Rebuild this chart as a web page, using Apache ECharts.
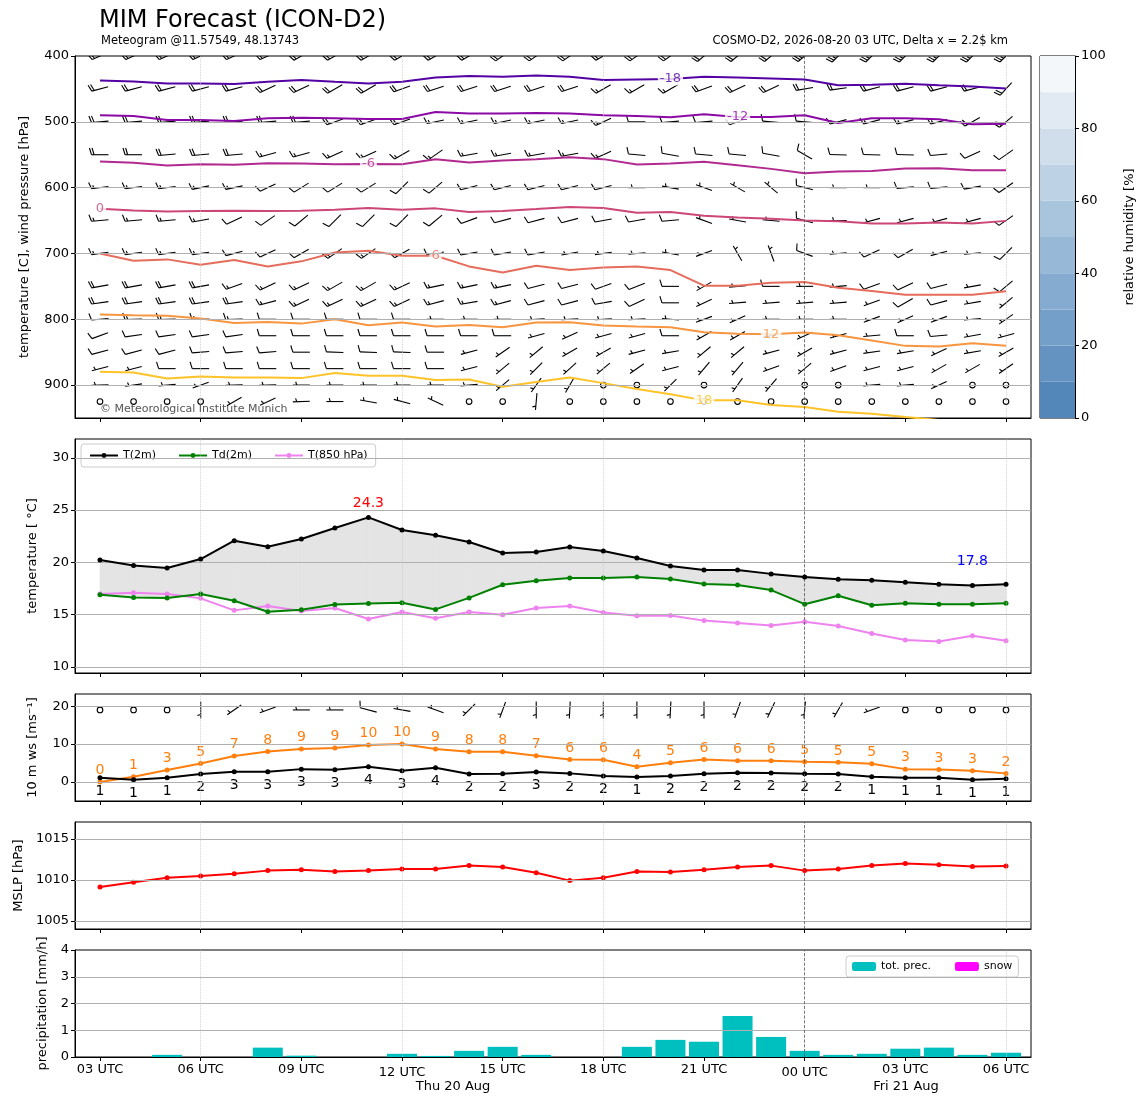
<!DOCTYPE html>
<html><head><meta charset="utf-8">
<script src="https://cdn.jsdelivr.net/npm/echarts@6/dist/echarts.min.js"></script>
<style>html,body{margin:0;padding:0;background:#fff}#c{width:1148px;height:1105px}</style>
</head><body><div id="c"></div>
<script>
// ---------- time axis ----------
const hours = ["03","04","05","06","07","08","09","10","11","12","13","14","15","16","17","18","19","20","21","22","23","00","01","02","03","04","05","06"];
const tickIdx = [0,3,6,9,12,15,18,21,24,27];
const tickLabels = ["03 UTC","06 UTC","09 UTC","12 UTC","15 UTC","18 UTC","21 UTC","00 UTC","03 UTC","06 UTC"];
const lowTickIdx = [9,21];
const gridIdx6h = [3,9,15,27];
const midnightIdx = 21;

// ---------- surface panels ----------
const t2m  = [20.22,19.71,19.46,20.32,22.07,21.5,22.23,23.29,24.3,23.1,22.6,21.95,20.9,21.0,21.47,21.08,20.41,19.65,19.27,19.27,18.9,18.6,18.39,18.29,18.1,17.9,17.8,17.9];
const td2m = [16.9,16.65,16.6,16.97,16.33,15.28,15.47,15.98,16.07,16.14,15.5,16.6,17.86,18.25,18.5,18.5,18.6,18.4,17.93,17.83,17.35,16.0,16.8,15.9,16.1,16.0,16.0,16.1];
const t850 = [16.97,17.1,16.97,16.56,15.41,15.83,15.35,15.63,14.58,15.25,14.65,15.25,15.0,15.63,15.83,15.2,14.9,14.93,14.43,14.2,13.96,14.33,13.92,13.2,12.57,12.44,12.98,12.5];
const ws10   = [1.14,0.61,1.14,2.1,2.7,2.7,3.4,3.25,4.0,2.98,3.77,2.1,2.2,2.63,2.28,1.58,1.3,1.58,2.2,2.45,2.37,2.2,2.1,1.4,1.14,1.14,0.61,0.88];
const gust10 = [0,1.4,3.16,4.9,6.84,8.07,8.7,8.95,9.74,10.0,8.7,7.98,7.98,6.93,5.96,5.88,4.0,5.1,5.96,5.6,5.6,5.35,5.18,4.82,3.4,3.3,3.0,2.28];
const dir10  = [0,0,0,180,235,250,270,270,285,280,290,225,200,180,183,180,180,183,180,200,205,185,210,250,0,0,0,0];
const barbRow10 = 19;
const mslp = [1009.15,1009.72,1010.28,1010.49,1010.77,1011.14,1011.26,1011.02,1011.14,1011.34,1011.34,1011.75,1011.59,1010.89,1009.92,1010.28,1011.02,1010.98,1011.26,1011.59,1011.75,1011.14,1011.34,1011.75,1012.0,1011.87,1011.63,1011.71];
const precip = [0,0,0.08,0,0,0.35,0.05,0,0,0.12,0.04,0.23,0.38,0.08,0,0,0.38,0.64,0.57,1.53,0.75,0.23,0.08,0.12,0.31,0.35,0.08,0.16];
const snow   = [0,0,0,0,0,0,0,0,0,0,0,0,0,0,0,0,0,0,0,0,0,0,0,0,0,0,0,0];

// ---------- isotherms (pressure of each isotherm, hPa) ----------
const isoM18 = [437.2,438.7,441.7,441.7,442.7,439.2,436.6,439.2,441.7,439.2,432.6,430.5,431.6,429.5,431.6,436.6,435.6,435,431.6,432.6,434,435.6,444.3,443.8,442.2,444.3,446.3,449.4];
const isoM12 = [490,491,497.2,497.2,498.7,494.7,493.7,494.7,495.7,495.7,485,487.5,487.5,486.5,487.5,490,491,493,488.5,492.6,492.6,490,501.8,494.7,494.7,496.2,503.8,502.8];
const isoM6  = [560.3,562.3,566.4,564.4,565.4,562.8,563.4,564.4,563.9,564.4,556.7,561.8,558.8,556.7,554,556.7,564.9,563.4,560.8,565.9,571.5,578.1,575.6,574.6,571,570.5,573.5,573.5];
const iso0   = [632,634.6,636.1,635.6,635.1,635.6,635.1,633.6,631,633.6,631.5,637.1,635.6,632.6,629.3,631,638.2,637.1,642.7,645.3,647.3,650,651,654.5,654.5,653,654.5,650.5];
const iso6   = [700,711,709,717,710,719.7,712,698.5,696,703.5,703.5,719.7,728.9,718.7,725.3,721.2,719.7,725.3,749,749,744.4,743.4,752,757,762.6,762.6,762.6,757.6];
const iso12  = [792.6,794,794.6,799,805.6,804,806.6,800,809,805,811,808.6,812,805,804.7,809.6,811,812,819.7,822,822.7,820.2,824.2,832.3,840.4,841.4,836.4,840.4];
const iso18  = [879.7,880.8,889.9,886.8,888.4,888.4,889.4,881.8,885.8,885.8,892.4,891.4,902.5,895.4,888.4,897,906,914,923.2,923.2,930.3,933.3,940.4,943.4,948.5,953,956,959];
const isoLevels = [-18,-12,-6,0,6,12,18];
const isoLabelIdx = [17,19,8,0,10,20,18];

// ---------- wind barbs on pressure levels (speed kt, direction deg) ----------
const spd400=[20,20,20,20,20,20,20,20,20,20,20,20,20,20,20,20,20,20,20,20,20,25,25,25,25,25,25,25];
const dir400=[245,245,245,245,245,245,240,240,240,240,240,240,235,235,235,240,235,235,230,230,230,230,225,225,225,225,225,225];
const spd450=[20,20,20,20,20,20,20,20,20,20,20,20,20,20,20,15,15,15,20,20,20,20,20,20,20,20,20,20];
const dir450=[255,255,255,255,255,245,245,240,240,250,252,252,252,252,252,240,240,240,250,245,245,260,262,255,255,255,255,222];
const spd500=[20,20,20,20,20,20,20,20,20,20,15,15,15,15,15,15,10,10,10,10,10,10,15,15,15,15,20,20];
const dir500=[265,265,265,265,265,265,265,250,250,250,258,258,258,258,258,245,270,265,265,250,275,275,255,255,255,255,240,230];
const spd550=[20,20,20,20,20,15,15,15,15,15,15,15,15,15,15,15,10,10,10,10,10,10,10,10,10,10,10,10];
const dir550=[270,270,265,265,265,255,255,245,245,240,235,260,260,260,260,245,275,280,275,275,280,300,272,272,272,265,245,235];
const spd600=[15,15,15,15,15,10,10,10,10,10,10,10,10,10,10,10,5,5,5,5,5,10,5,5,10,10,10,10];
const dir600=[262,262,262,258,258,245,238,238,238,225,230,255,255,255,255,255,270,280,290,300,310,285,270,270,265,265,260,235];
const spd650=[15,15,15,15,10,10,10,10,10,10,10,10,10,10,10,10,10,10,5,5,5,10,5,5,5,5,5,10];
const dir650=[265,265,265,260,245,235,230,225,225,225,230,250,255,255,255,260,260,265,290,280,275,285,270,255,255,255,255,235];
const spd700=[15,15,15,15,10,10,10,15,15,10,10,10,10,10,5,5,5,5,5,5,5,10,5,10,10,5,5,10];
const dir700=[262,262,262,262,255,245,240,235,235,240,260,260,260,260,260,262,265,280,250,330,340,290,265,245,240,255,265,225];
const spd750=[20,20,20,20,15,15,15,15,15,15,15,15,15,10,10,10,10,10,5,5,10,5,5,10,10,10,5,10];
const dir750=[260,260,260,260,250,245,245,240,240,245,258,258,258,255,255,250,248,270,240,265,270,270,265,250,245,255,260,230];
const spd775=[20,20,20,20,20,15,15,15,15,15,15,15,15,10,10,10,10,10,5,5,5,5,5,5,10,10,5,5];
const dir775=[262,262,262,262,262,255,245,245,245,245,255,260,255,255,255,260,245,270,245,265,265,265,265,250,240,255,260,230];
const spd800=[10,15,15,15,15,10,10,10,10,10,5,5,5,5,5,5,5,5,5,5,5,5,5,5,5,5,5,5];
const dir800=[265,268,268,268,268,270,270,270,270,270,270,270,270,267,267,267,267,275,250,245,270,270,270,250,245,250,265,235];
const spd825=[10,10,10,10,10,10,10,10,10,10,10,10,10,5,5,5,5,10,5,5,5,5,5,5,10,10,5,5];
const dir825=[250,262,262,262,262,270,270,270,270,270,270,270,270,255,245,255,255,270,240,240,260,245,255,265,270,265,260,255];
const spd850=[10,10,10,10,10,10,10,10,10,10,10,5,5,5,5,5,5,5,5,5,5,5,5,5,5,5,5,5];
const dir850=[255,255,255,265,265,265,270,272,272,272,270,255,235,230,240,240,255,260,230,230,255,240,255,262,260,245,260,240];
const spd875=[5,5,10,10,10,10,10,10,10,10,10,5,5,5,5,5,5,5,5,5,5,5,5,5,5,5,5,5];
const dir875=[255,255,270,270,270,270,270,270,270,270,270,255,230,225,228,230,235,255,220,220,250,230,250,255,255,240,240,235];
const spd900=[5,5,5,5,5,5,5,5,5,5,5,5,5,5,5,0,0,5,0,5,5,0,0,5,5,5,0,0];
const dir900=[268,262,265,250,268,268,270,270,270,270,270,265,230,215,210,0,0,225,0,215,220,0,0,265,265,245,0,0];
const spd925=[0,0,0,0,5,5,5,5,5,5,5,0,0,5,0,0,0,0,0,0,0,0,0,0,0,0,0,0];
const dir925=[0,0,0,0,240,245,268,270,280,285,295,0,0,185,0,0,0,0,0,0,0,0,0,0,0,0,0,0];

// ---------- colorbar ----------
const rhLevels = [0,10,20,30,40,50,60,70,80,90];
const rhColors = ['#5387ba','#6493c2','#749fc9','#85abd0','#97b8d7','#a9c5de','#bed2e6','#d0deeb','#e1e9f2','#f3f7fa'];

// ===================================================
const isoSeriesData = [isoM18,isoM12,isoM6,iso0,iso6,iso12,iso18];
const isoColors = ['#5402a3','#8b0aa5','#b12a90','#cc4778','#e66c5c','#f89540','#fdc328'];
const barbLevels = [[400,spd400,dir400],[450,spd450,dir450],[500,spd500,dir500],[550,spd550,dir550],[600,spd600,dir600],[650,spd650,dir650],[700,spd700,dir700],[750,spd750,dir750],[775,spd775,dir775],[800,spd800,dir800],[825,spd825,dir825],[850,spd850,dir850],[875,spd875,dir875],[900,spd900,dir900],[925,spd925,dir925]];
const FONT = 'DejaVu Sans';
const xMin = -0.745, xMax = 27.745;

function pairs(arr){ return arr.map((v,i)=>[i,v]); }

function barbRender(params, api){
  const spd = api.value(2), dir = api.value(3);
  const p = api.coord([api.value(0), api.value(1)]);
  if (!(spd >= 5)) {
    return {type:'circle', shape:{cx:p[0], cy:p[1], r:2.8}, style:{stroke:'#000', lineWidth:1.1, fill:'rgba(0,0,0,0)'}};
  }
  const L = 17, FL = 7, SP = 2.6;
  const th = dir*Math.PI/180;
  const ux = Math.sin(th), uy = -Math.cos(th);
  const ex = p[0]+ux*L/2, ey = p[1]+uy*L/2;
  const tx = p[0]-ux*L/2, ty = p[1]-uy*L/2;
  const a = 107*Math.PI/180;
  const dmx = -Math.sin(th), dmy = -Math.cos(th);
  const fmx = dmx*Math.cos(a) - dmy*Math.sin(a);
  const fmy = dmx*Math.sin(a) + dmy*Math.cos(a);
  const fx = fmx, fy = -fmy;
  const dsx = -ux, dsy = -uy;
  const st = {stroke:'#000', lineWidth:1.1};
  const ch = [{type:'line', shape:{x1:ex,y1:ey,x2:tx,y2:ty}, style:st}];
  let n = Math.round(spd/5)*5;
  const full = Math.floor(n/10); n -= full*10;
  const half = n >= 5;
  let off = 0;
  for (let k=0;k<full;k++){
    const bx = ex+dsx*off, by = ey+dsy*off;
    ch.push({type:'line', shape:{x1:bx,y1:by,x2:bx+fx*FL,y2:by+fy*FL}, style:st});
    off += SP;
  }
  if (half){
    if (off===0) off += 1.5*SP;
    const bx = ex+dsx*off, by = ey+dsy*off;
    ch.push({type:'line', shape:{x1:bx,y1:by,x2:bx+fx*FL/2,y2:by+fy*FL/2}, style:st});
  }
  return {type:'group', children:ch};
}

const barbData = [];
barbLevels.forEach(([lev, sp, dr]) => { sp.forEach((s,i)=> barbData.push([i, lev, s, dr[i]])); });
const barb10Data = ws10.map((w,i)=>[i, barbRow10, Math.round(w*1.94384/5)*5, dir10[i]]);
const fillData = t2m.slice(0,-1).map((v,i)=>[i, v, td2m[i], t2m[i+1], td2m[i+1]]);

const grids = [
  {left:75, top:56, width:956, height:362},
  {left:75, top:439, width:956, height:234},
  {left:75, top:694, width:956, height:107},
  {left:75, top:822, width:956, height:107},
  {left:75, top:950, width:956, height:107},
  {left:1040, top:56, width:35, height:362}
].map(g=>Object.assign(g,{show:true, borderColor:'#000', borderWidth:1, backgroundColor:'rgba(0,0,0,0)'}));

function xAx(i, labels){
  return {type:'value', gridIndex:i, min:xMin, max:xMax,
    axisLine:{show:true, onZero:false, lineStyle:{color:'#000', width:1}},
    axisTick:{show:true, customValues:tickIdx, length:4, lineStyle:{color:'#000'}},
    axisLabel:{show:labels, customValues:tickIdx,
      formatter:(v)=>{const r=Math.round(v); const k=tickIdx.indexOf(r); if(k<0) return ''; return lowTickIdx.indexOf(r)>=0 ? '{low|'+tickLabels[k]+'}' : tickLabels[k];},
      rich:{low:{fontSize:13, fontFamily:FONT, color:'#000', padding:[3,0,0,0]}},
      color:'#000', fontSize:13, margin:6, fontFamily:FONT},
    splitLine:{show:false}};
}
function yAx(i, min, max, ticks, name, gap, extra){
  return Object.assign({type:'value', gridIndex:i, min:min, max:max,
    name:name, nameLocation:'middle', nameGap:gap, nameRotate:90,
    nameTextStyle:{fontSize:13, fontFamily:FONT, color:'#000'},
    axisLine:{show:true, onZero:false, lineStyle:{color:'#000', width:1}},
    axisTick:{show:true, customValues:ticks, length:4, lineStyle:{color:'#000'}},
    axisLabel:{show:true, customValues:ticks, formatter:(v)=>String(v), color:'#000', fontSize:13, margin:6, fontFamily:FONT},
    splitLine:{show:false}}, extra||{});
}
function gridLines(gi, yVals){
  const d = yVals.map(v=>({yAxis:v, lineStyle:{color:'#b0b0b0', width:1, type:'solid'}}));
  gridIdx6h.forEach(v=>d.push({xAxis:v, lineStyle:{color:'#c8c8c8', width:0.8, type:'dotted'}}));
  d.push({xAxis:midnightIdx, lineStyle:{color:'#555', width:0.8, type:'dashed'}});
  return {type:'line', xAxisIndex:gi, yAxisIndex:gi, data:[], silent:true, z:1,
    markLine:{silent:true, symbol:['none','none'], label:{show:false}, animation:false, data:d}};
}

const series = [];
series.push(gridLines(0,[500,600,700,800,900]));
series.push(gridLines(1,[10,15,20,25,30]));
series.push(gridLines(2,[0,10,20]));
series.push(gridLines(3,[1005,1010,1015]));
series.push(gridLines(4,[1,2,3]));

// top panel: barbs + isotherms
series.push({type:'custom', name:'barbs', xAxisIndex:0, yAxisIndex:0, data:barbData, renderItem:barbRender, clip:true, silent:true, z:2});
isoSeriesData.forEach((arr,k)=>{
  series.push({type:'line', xAxisIndex:0, yAxisIndex:0, data:pairs(arr), symbol:'none', clip:true, silent:true, z:3,
    lineStyle:{color:isoColors[k], width:2}});
});
series.push({type:'scatter', xAxisIndex:0, yAxisIndex:0, symbolSize:0, silent:true, z:4,
  data:isoLevels.map((lv,k)=>({value:[isoLabelIdx[k], isoSeriesData[k][isoLabelIdx[k]]],
    label:{show:true, position:'inside', formatter:String(lv), color:isoColors[k], fontSize:13, fontFamily:FONT, backgroundColor:'#fff', padding:[0,2]}}))});

// T panel
series.push({type:'custom', xAxisIndex:1, yAxisIndex:1, data:fillData, silent:true, z:2,
  renderItem:(params, api)=>{
    const i = api.value(0);
    const a = api.coord([i, api.value(1)]), b = api.coord([i, api.value(2)]);
    const c = api.coord([i+1, api.value(3)]), d = api.coord([i+1, api.value(4)]);
    return {type:'polygon', shape:{points:[a,c,d,b]}, style:{fill:'#e4e4e4', stroke:'#e4e4e4', lineWidth:0.6}};
  }});
series.push({name:'T(2m)', type:'line', xAxisIndex:1, yAxisIndex:1, data:pairs(t2m), symbol:'circle', symbolSize:5, color:'#000', lineStyle:{width:2, color:'#000'}, z:5,
  markPoint:{symbol:'circle', symbolSize:0, silent:true, data:[
    {type:'max', label:{show:true, position:'top', distance:7, color:'#ff0000', fontSize:14, fontFamily:FONT, formatter:(p)=>Number(p.value).toFixed(1)}},
    {type:'min', label:{show:true, position:'top', distance:17, color:'#0000ff', fontSize:14, fontFamily:FONT, formatter:(p)=>Number(p.value).toFixed(1)}}]}});
series.push({name:'Td(2m)', type:'line', xAxisIndex:1, yAxisIndex:1, data:pairs(td2m), symbol:'circle', symbolSize:5, color:'#008000', lineStyle:{width:2, color:'#008000'}, z:4});
series.push({name:'T(850 hPa)', type:'line', xAxisIndex:1, yAxisIndex:1, data:pairs(t850), symbol:'circle', symbolSize:5, color:'#ee82ee', lineStyle:{width:2, color:'#ee82ee'}, z:3});

// wind panel
series.push({type:'custom', xAxisIndex:2, yAxisIndex:2, data:barb10Data, renderItem:barbRender, clip:true, silent:true, z:2});
series.push({type:'line', xAxisIndex:2, yAxisIndex:2, data:pairs(gust10), symbol:'circle', symbolSize:5, color:'#ff7f0e', lineStyle:{width:2, color:'#ff7f0e'}, z:3,
  label:{show:true, position:'top', distance:2, color:'#ff7f0e', fontSize:14, fontFamily:FONT, formatter:(p)=>String(Math.round(p.value[1]))}});
series.push({type:'line', xAxisIndex:2, yAxisIndex:2, data:pairs(ws10), symbol:'circle', symbolSize:5, color:'#000', lineStyle:{width:2, color:'#000'}, z:4,
  label:{show:true, position:'bottom', distance:4, color:'#000', fontSize:14, fontFamily:FONT, formatter:(p)=>String(Math.round(p.value[1]))}});

// MSLP
series.push({type:'line', xAxisIndex:3, yAxisIndex:3, data:pairs(mslp), symbol:'circle', symbolSize:5, color:'#ff0000', lineStyle:{width:2, color:'#ff0000'}, z:3});

// precipitation
series.push({name:'tot. prec.', type:'bar', xAxisIndex:4, yAxisIndex:4, data:pairs(precip), barWidth:30, barGap:'-100%', itemStyle:{color:'#00bfbf'}, z:3});
series.push({name:'snow', type:'bar', xAxisIndex:4, yAxisIndex:4, data:pairs(snow), barWidth:30, barGap:'-100%', itemStyle:{color:'#ff00ff'}, z:4});

// colorbar
series.push({type:'custom', xAxisIndex:5, yAxisIndex:5, data:rhLevels.map(v=>[0,v]), silent:true, z:2,
  renderItem:(params, api)=>{
    const v = api.value(1);
    const p1 = api.coord([0, v]); const p2 = api.coord([1, v+10]);
    return {type:'rect', shape:{x:p1[0], y:p2[1], width:p2[0]-p1[0], height:p1[1]-p2[1]}, style:{fill:rhColors[params.dataIndex]}};
  }});

const option = {
  animation:false,
  backgroundColor:'#fff',
  textStyle:{fontFamily:FONT},
  grid:grids,
  xAxis:[xAx(0,false),xAx(1,false),xAx(2,false),xAx(3,false),xAx(4,true),
    {type:'value', gridIndex:5, min:0, max:1, show:false}],
  yAxis:[
    yAx(0,400,950,[400,500,600,700,800,900],'temperature [C], wind pressure [hPa]',44,{inverse:true}),
    yAx(1,9.42,31.8,[10,15,20,25,30],'temperature [ °C]',36),
    yAx(2,-5,23.2,[0,10,20],'10 m ws [ms⁻¹]',36),
    yAx(3,1004.02,1017.07,[1005,1010,1015],'MSLP [hPa]',50),
    yAx(4,0,4,[0,1,2,3,4],'precipitation [mm/h]',26),
    yAx(5,0,100,[0,20,40,60,80,100],'relative humidity [%]',48,{position:'right'})
  ],
  legend:[
    {data:['T(2m)','Td(2m)','T(850 hPa)'], left:81, top:444, orient:'horizontal', itemWidth:28, itemHeight:6, itemGap:22,
     padding:[6,8], borderColor:'#ccc', borderWidth:1, borderRadius:3, backgroundColor:'#fff',
     textStyle:{fontSize:11, fontFamily:FONT, color:'#000'}, selectedMode:false},
    {data:['tot. prec.','snow'], left:846, top:956, orient:'horizontal', itemWidth:24, itemHeight:9, itemGap:24,
     padding:[5,6], borderColor:'#ccc', borderWidth:1, borderRadius:3, backgroundColor:'#fff',
     textStyle:{fontSize:11, fontFamily:FONT, color:'#000'}, selectedMode:false}
  ],
  graphic:[
    {type:'text', left:99, top:9, style:{text:'MIM Forecast (ICON-D2)', font:'24px "DejaVu Sans"', fill:'#000'}},
    {type:'text', left:101, top:35, style:{text:'Meteogram @11.57549, 48.13743', font:'11.5px "DejaVu Sans"', fill:'#000'}},
    {type:'text', right:140, top:35, style:{text:'COSMO-D2, 2026-08-20 03 UTC, Delta x = 2.2$ km', font:'11.5px "DejaVu Sans"', fill:'#000'}},
    {type:'text', left:100, top:404, z:100, style:{text:'© Meteorological Institute Munich', font:'11px "DejaVu Sans"', fill:'#555'}},
    {type:'text', x:453, y:1087, style:{text:'Thu 20 Aug', font:'13px "DejaVu Sans"', fill:'#000', align:'center', verticalAlign:'middle'}},
    {type:'text', x:906, y:1087, style:{text:'Fri 21 Aug', font:'13px "DejaVu Sans"', fill:'#000', align:'center', verticalAlign:'middle'}}
  ],
  series:series
};
const chart = echarts.init(document.getElementById('c'), null, {renderer:'canvas'});
chart.setOption(option);
</script></body></html>
